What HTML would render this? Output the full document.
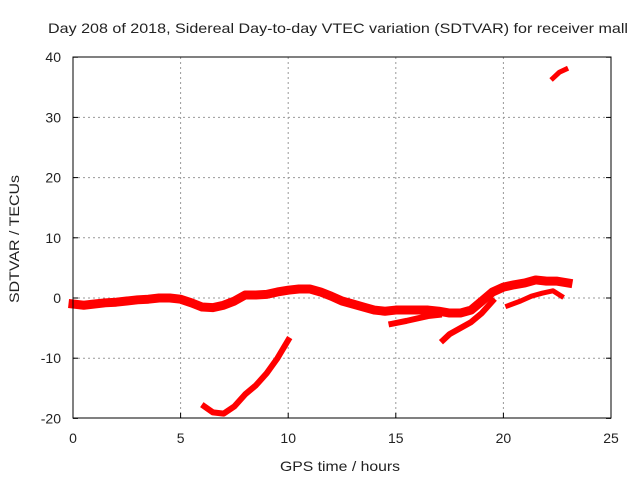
<!DOCTYPE html>
<html><head><meta charset="utf-8"><style>
body{margin:0;background:#fff;}
svg text{font-family:"Liberation Sans",sans-serif;font-size:14px;fill:#222;}
</style></head><body>
<svg width="640" height="480" xmlns="http://www.w3.org/2000/svg">
<g id="grid"></g>
<g id="series"></g>
<rect x="73" y="57" width="538" height="361" fill="none" stroke="#000" stroke-width="1"/>
<g id="ticks"></g>
<text x="48" y="33" textLength="580" lengthAdjust="spacingAndGlyphs">Day 208 of 2018, Sidereal Day-to-day VTEC variation (SDTVAR) for receiver mall</text>
<text x="280" y="471" textLength="120" lengthAdjust="spacingAndGlyphs">GPS time / hours</text>
<text x="0" y="0" textLength="128" lengthAdjust="spacingAndGlyphs" transform="translate(19 303) rotate(-90)">SDTVAR / TECUs</text>
</svg>
<script>
const xTicks=[0,5,10,15,20,25];
const yTicks=[-20,-10,0,10,20,30,40];
const mainHours=[0,0.5,1,1.5,2,2.5,3,3.5,4,4.5,5,5.5,6,6.5,7,7.5,8,8.5,9,9.5,10,10.5,11,11.5,12,12.5,13,13.5,14,14.5,15,15.5,16,16.5,17,17.5,18,18.5,19,19.5,20,20.5,21,21.5,22,22.5,23];
const mainValues=[-1,-1.2,-1,-0.8,-0.7,-0.5,-0.3,-0.2,0,0,-0.2,-0.8,-1.5,-1.6,-1.2,-0.5,0.5,0.5,0.6,1,1.3,1.5,1.5,1,0.3,-0.5,-1,-1.5,-2,-2.2,-2,-2,-2,-2,-2.2,-2.5,-2.5,-2,-0.5,1,1.8,2.2,2.5,3,2.8,2.8,2.5];
const branch2Hours=[14.8,15.5,16,16.5,17];
const branch2Values=[-4.3,-3.8,-3.4,-3,-2.8];
const branch3Hours=[17.2,17.5,18,18.5,19,19.5];
const branch3Values=[-7,-6,-5,-4,-2.5,-0.5];
const branch4Hours=[20.2,20.8,21.3,21.8,22.3,22.7];
const branch4Values=[-1.3,-0.5,0.3,0.8,1.2,0.3];
const dipHours=[6.1,6.5,7,7.5,8,8.5,9,9.5,10];
const dipValues=[-18,-19,-19.2,-18,-16,-14.5,-12.5,-10,-7];
const topHours=[22.3,22.6,22.9];
const topValues=[36.5,37.5,38];

const X=h=>73+h*538/25;
const Y=v=>298-v*6.02;
const NS="http://www.w3.org/2000/svg";
const grid=document.getElementById('grid'),ticks=document.getElementById('ticks'),ser=document.getElementById('series');
function mk(tag,attrs,parent){const e=document.createElementNS(NS,tag);for(const k in attrs)e.setAttribute(k,attrs[k]);parent.appendChild(e);return e;}
xTicks.forEach(t=>{
  if(t>0&&t<25){const l=mk('line',{x1:X(t),x2:X(t),y1:57,y2:418,stroke:'#999','stroke-dasharray':'2,3'},grid);
  
  }
  const tk=mk('line',{x1:X(t),x2:X(t),y1:418,y2:413,stroke:'#000'},ticks);
  
  
  const tx=mk('text',{x:X(t),y:443,'text-anchor':'middle'},ticks);tx.textContent=t;
  
  
});
yTicks.forEach(t=>{
  if(t>-20&&t<40){const l=mk('line',{x1:73,x2:611,y1:Y(t),y2:Y(t),stroke:'#999','stroke-dasharray':'2,3'},grid);
  
  }
  const tk=mk('line',{x1:73,x2:78,y1:Y(t),y2:Y(t),stroke:'#000'},ticks);
  
  
  const tk2=mk('line',{x1:606,x2:611,y1:Y(t),y2:Y(t),stroke:'#000'},ticks);
  
  
  const tx=mk('text',{x:61,y:Y(t)+5,'text-anchor':'end'},ticks);tx.textContent=t;
  
  
});
function trace(hs,vs,w,name){
  const p=mk('polyline',{points:hs.map((h,i)=>X(h)+','+Y(vs[i])).join(' '),fill:'none',stroke:'#f00','stroke-width':w,'stroke-linejoin':'round','stroke-linecap':'square'},ser);
  
  
}
trace(mainHours,mainValues,9,'main-trace');
trace(branch2Hours,branch2Values,6,'branch-trace-2');
trace(branch3Hours,branch3Values,6,'branch-trace-3');
trace(branch4Hours,branch4Values,5,'branch-trace-4');
trace(dipHours,dipValues,6,'dip-trace');
trace(topHours,topValues,5,'top-trace');
</script>
</body></html>
